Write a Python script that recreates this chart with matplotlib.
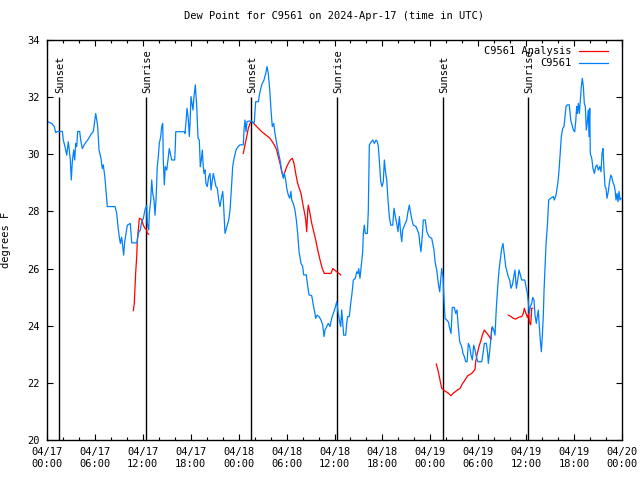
import numpy as np
import matplotlib
matplotlib.use('Agg')
from matplotlib import pyplot as plt
from matplotlib.ticker import MultipleLocator

nan = np.nan

# hours since 2024-04-17 00:00 UTC
blue_hours = [0.0, 0.59, 0.91, 1.09, 1.34, 1.92, 2.04, 2.25, 2.47, 2.67, 2.79, 2.92, 3.04, 3.17, 3.34,
              3.47, 3.59, 3.72, 3.84, 4.09, 4.22, 4.42, 4.76, 5.17, 5.51, 5.80, 6.10, 6.22, 6.35, 6.51,
              6.76, 6.92, 7.05, 7.26, 7.39, 7.55, 8.52, 8.73, 8.85, 9.02, 9.18, 9.35, 9.48, 9.60, 9.73,
              9.89, 10.06, 10.43, 10.61, 11.27, 11.43, 11.68, 11.86, 12.06, 12.31, 12.48, 12.56, 12.74,
              12.81, 12.99, 13.11, 13.24, 13.40, 13.52, 13.65, 13.81, 13.94, 14.06, 14.24, 14.36, 14.49,
              14.56, 14.69, 14.81, 14.99, 15.15, 15.31, 15.49, 15.62, 15.99, 16.07, 16.12, 17.19, 17.28,
              17.41, 17.53, 17.69, 17.82, 17.91, 18.03, 18.16, 18.28, 18.41, 18.57, 18.75, 18.91, 19.07,
              19.20, 19.32, 19.45, 19.57, 19.66, 19.78, 19.91, 20.07, 20.25, 20.41, 20.54, 20.70, 20.83,
              21.00, 21.16, 21.33, 21.50, 21.66, 21.83, 22.00, 22.08, 22.16, 22.29, 22.41, 22.58, 22.75,
              22.92, 23.08, 23.25, 23.42, 23.67, 23.92, 24.17, 24.58, 24.67, 24.79, 24.92, 25.04, 25.21,
              25.63, 25.84, 25.96, 26.13, 26.46, 26.63, 26.89, 27.17, 27.39, 27.55, 27.71, 27.89, 28.05,
              28.21, 28.39, 28.55, 28.76, 28.96, 29.18, 29.30, 29.46, 29.59, 29.72, 29.89, 30.02, 30.22,
              30.39, 30.55, 30.64, 30.84, 31.05, 31.22, 31.39, 31.56, 31.81, 32.02, 32.14, 32.47, 32.65,
              32.81, 33.15, 33.31, 33.47, 33.65, 33.81, 34.06, 34.31, 34.52, 34.69, 34.81, 35.02, 35.22,
              35.44, 35.65, 35.85, 36.06, 36.28, 36.44, 36.60, 36.78, 36.90, 37.03, 37.15, 37.40, 37.53,
              37.65, 37.85, 38.03, 38.19, 38.36, 38.61, 38.78, 38.94, 39.03, 39.19, 39.36, 39.53, 39.61,
              39.73, 39.86, 40.11, 40.23, 40.36, 40.61, 40.79, 40.99, 41.20, 41.36, 41.49, 41.61, 41.79,
              41.95, 42.11, 42.24, 42.36, 42.54, 42.70, 42.86, 43.04, 43.29, 43.45, 43.62, 43.79, 43.95,
              44.12, 44.29, 44.42, 44.54, 44.70, 44.87, 45.04, 45.20, 45.37, 45.54, 45.70, 45.87, 46.21,
              46.37, 46.55, 46.71, 46.83, 47.00, 47.12, 47.37, 47.55, 47.83, 48.17, 48.46, 48.59, 48.80,
              49.00, 49.17, 49.30, 49.42, 49.59, 49.67, 49.84, 50.05, 50.25, 50.43, 50.59, 50.75, 51.00,
              51.18, 51.34, 51.50, 51.68, 51.93, 52.09, 52.26, 52.43, 52.60, 52.76, 52.93, 53.09, 53.26,
              53.43, 53.60, 53.76, 53.94, 54.44, 54.60, 54.76, 55.01, 55.18, 55.26, 55.43, 55.60, 55.76,
              55.94, 56.10, 56.26, 56.44, 56.60, 56.76, 56.94, 57.10, 57.27, 57.44, 57.60, 57.77, 57.94,
              58.10, 58.26, 58.44, 58.60, 58.77, 58.94, 59.11, 59.27, 59.44, 59.82, 59.98, 60.15, 60.27,
              60.39, 60.52, 60.69, 60.82, 60.98, 61.11, 61.27, 61.39, 61.52, 61.65, 61.77, 61.90, 62.02,
              62.15, 62.24, 62.36, 62.49, 62.65, 62.82, 63.07, 63.40, 63.53, 63.74, 63.90, 64.03, 64.15,
              64.28, 64.40, 64.58, 64.74, 64.86, 64.99, 65.15, 65.40, 65.58, 65.74, 65.91, 66.08, 66.20,
              66.33, 66.41, 66.53, 66.66, 66.78, 66.91, 67.03, 67.16, 67.28, 67.41, 67.53, 67.66, 67.78,
              67.87, 67.96, 68.03, 68.21, 68.37, 68.54, 68.71, 68.87, 69.04, 69.21, 69.37, 69.50, 69.62,
              69.75, 69.87, 70.00, 70.12, 70.29, 70.41, 70.59, 70.71, 70.84, 71.00, 71.13, 71.25, 71.38,
              71.50, 71.63, 71.75, 71.88]
blue_dewpt = [31.15, 31.08, 30.97, 30.76, 30.8, 30.8, 30.5, 30.27, 29.97, 30.44, 30.15, 29.8, 29.1, 29.74, 30.15,
              29.8, 30.38, 30.27, 30.8, 30.8, 30.5, 30.2, 30.38, 30.53, 30.7, 30.8, 31.43, 31.2, 30.97, 30.15,
              29.86, 29.5, 29.63, 29.16, 28.7, 28.17, 28.17, 27.93, 27.58, 27.17, 26.88, 27.1, 26.76, 26.47, 26.94,
              27.23, 27.52, 27.58, 26.9, 26.9, 27.23, 27.35, 27.64, 27.76, 28.1, 28.21, 27.58, 27.35,
              27.93, 28.4, 29.1, 28.63, 28.4, 27.87, 28.4, 29.57, 29.92, 30.38, 30.62, 30.97, 31.08,
              29.8, 28.93, 29.57, 29.45, 29.8, 30.2, 29.97, 29.8, 29.8, 30.29, 30.79, 30.79, 30.73,
              31.14, 31.61, 31.26, 30.62, 31.08, 32.02, 31.78, 31.55, 32.02, 32.43, 31.67, 30.56, 30.5,
              29.57, 29.8, 30.15, 29.57, 29.33, 29.45, 28.98, 28.87, 29.22, 29.33, 28.75, 29.1, 29.33,
              29.1, 28.87, 28.81, 28.4, 28.17, 28.46, 28.7, 28.4, 27.93, 27.23, 27.35, 27.52, 27.7,
              28.05, 28.75, 29.57, 29.86, 30.15, 30.27, 30.33, 30.33, 30.85, 31.2, 30.79, 31.14, 31.16,
              31.16, 31.08, 31.14, 31.84, 31.84, 32.13, 32.43, 32.6, 32.83, 33.07, 32.83, 32.25, 31.55,
              30.97, 31.08, 30.73, 30.38, 30.09, 29.8, 29.57, 29.33, 29.16, 29.33, 29.1, 28.81, 28.57,
              28.46, 28.7, 28.4, 28.28, 28.05, 27.7, 27.23, 26.59, 26.18, 26.07, 25.78, 25.78, 25.37,
              25.08, 25.05, 24.78, 24.55, 24.26, 24.37, 24.32, 24.2, 24.03, 23.62, 23.85, 23.97, 24.08,
              23.97, 24.26, 24.43, 24.61, 24.84, 24.49, 24.2, 23.97, 24.55, 24.08, 23.67, 23.67, 24.08,
              24.32, 24.32, 24.78, 25.13, 25.6, 25.66, 25.89, 25.83, 26.0, 25.66, 26.13, 26.59, 27.23,
              27.52, 27.23, 27.23, 27.99, 30.33, 30.44, 30.5, 30.38, 30.5, 30.44, 30.27, 29.8, 29.04,
              28.87, 29.04, 29.8, 29.45, 29.1, 28.4, 27.82, 27.52, 27.52, 28.11, 27.82, 27.58, 27.29,
              27.82, 27.23, 26.94, 27.35, 27.47, 27.58, 27.7, 27.99, 28.22, 27.93, 27.7, 27.52, 27.47,
              27.35, 27.23, 26.82, 26.59, 27.17, 27.7, 27.7, 27.3, 27.12, 27.06, 26.65, 26.24, 25.95,
              25.48, 25.19, 25.6, 26.0, 25.71, 25.13, 24.26, 24.2, 24.14, 23.91, 23.73, 24.64, 24.64,
              24.43, 24.55, 23.97, 23.44, 23.27, 23.03, 22.92, 22.74, 22.74, 23.38, 23.27, 22.97, 22.8,
              23.32, 23.15, 22.92, 22.74, 22.74, 23.03, 23.38, 23.38, 23.03, 22.68, 23.09, 23.62, 23.97,
              23.85, 23.67, 24.61, 25.37, 25.95, 26.3, 26.71, 26.88, 26.47, 26.07, 25.89, 25.71, 25.6,
              25.31, 25.42, 25.71, 25.95, 25.31, 25.6, 25.95, 25.78, 25.6, 25.6, 25.37, 25.13, 24.84,
              24.43, 24.67, 24.78, 24.99, 24.9, 24.37, 24.08, 24.32, 24.55, 23.97, 23.5, 23.09, 23.62,
              24.37, 25.25, 26.07, 26.88, 27.47, 28.4, 28.46, 28.52, 28.4, 28.57, 28.87, 29.16, 29.57,
              30.09, 30.62, 30.91, 30.97, 31.32, 31.67, 31.73, 31.73, 31.2, 31.03, 30.85, 30.79, 31.14,
              31.67, 31.43, 31.78, 31.43, 31.9, 32.37, 32.66, 32.37, 31.78, 31.67, 30.85, 31.14, 31.55,
              30.62, 31.61, 30.03, 29.86, 29.5, 29.33, 29.57, 29.63, 29.45, 29.57, 29.39, 30.03, 30.2,
              29.45, 28.87, 28.81, 28.46, 28.7, 28.98, 29.27, 29.22, 29.04, 28.93, 28.75, 28.4, 28.63,
              28.34, 28.7, 28.4, 28.46]

# analysis series, gaps marked with nan
red_hours = [10.81, 10.93, 11.02, 11.11, 11.23, 11.31, 11.48, 11.56, 11.86, 12.06, 12.27, 12.48, 12.56, 12.74,
             nan,
             24.58, 24.79, 25.01, 25.21, 25.51, 25.71, 26.05, 26.46, 26.89, 27.39, 27.92, 28.21, 28.46,
             28.76, 28.96, 29.18, 29.39, 29.59, 29.80, 30.02, 30.22, 30.47, 30.72, 30.93, 31.14, 31.39,
             31.59, 31.81, 32.02, 32.22, 32.40, 32.52, 32.65, 32.72, 32.93, 33.15, 33.40, 33.65, 33.90,
             34.19, 34.47, 34.72, 35.56, 35.78, 36.28, 36.78,
             nan,
             48.75, 49.00, 49.21, 49.42, 49.75, 50.25, 50.59, 50.88, 51.30, 51.72, 52.00, 52.34, 52.68,
             53.18, 53.60, 53.68, 53.88, 54.09, 54.35, 54.51, 54.76, 55.01, 55.35, 55.60, 55.68,
             nan,
             57.77, 58.10, 58.39, 58.69, 59.02, 59.44, 59.64, 59.77, 59.98, 60.15, 60.32, 60.39, 60.57,
             60.69, 60.82]
red_dewpt = [24.53, 24.78, 25.34, 25.89, 26.4, 27.0, 27.49, 27.76, 27.72, 27.52, 27.41, 27.35, 27.23, 27.2,
             nan,
             30.03, 30.33, 30.62, 30.91, 31.14, 31.14, 31.03, 30.91, 30.79, 30.68, 30.56, 30.44, 30.33,
             30.15, 29.92, 29.68, 29.39, 29.22, 29.39, 29.57, 29.68, 29.8, 29.86, 29.68, 29.33, 28.98,
             28.81, 28.63, 28.28, 27.99, 27.7, 27.29, 28.05, 28.22, 27.93, 27.58, 27.29, 27.0, 26.65,
             26.3, 26.0, 25.83, 25.83, 26.0, 25.89, 25.78,
             nan,
             22.66, 22.39, 22.1, 21.81, 21.73, 21.64, 21.55, 21.64, 21.73, 21.81, 21.96, 22.1, 22.25,
             22.33, 22.47, 22.74, 23.03, 23.27, 23.5, 23.67, 23.85, 23.76, 23.64, 23.52, 23.91,
             nan,
             24.37, 24.32, 24.26, 24.23, 24.29, 24.32, 24.43, 24.61, 24.43, 24.29, 24.43, 24.14, 24.03,
             24.61, 24.61]

sun_hours = [1.54, 12.44, 25.58, 36.36, 49.63, 60.27]
sun_labels = ['Sunset', 'Sunrise', 'Sunset', 'Sunrise', 'Sunset', 'Sunrise']

xtick_hours = list(range(0, 73, 6))
xtick_labels = ['04/17\n00:00', '04/17\n06:00', '04/17\n12:00', '04/17\n18:00',
                '04/18\n00:00', '04/18\n06:00', '04/18\n12:00', '04/18\n18:00',
                '04/19\n00:00', '04/19\n06:00', '04/19\n12:00', '04/19\n18:00',
                '04/20\n00:00']

plt.rcParams['font.family'] = 'DejaVu Sans Mono'
plt.rcParams['font.size'] = 7

fig = plt.figure(figsize=(6.4, 4.8), dpi=100)
ax = fig.add_axes([47 / 640, 40 / 480, 575 / 640, 400 / 480])

for h, lab in zip(sun_hours, sun_labels):
    ax.vlines(h, 20, 32.0, color='black', linewidth=1)
    ax.text(h + 0.15, 32.15, lab, rotation=90, ha='center', va='bottom', fontsize=7.5)

ax.plot(red_hours, red_dewpt, color='#ff0000', linewidth=0.9, label='C9561 Analysis')
ax.plot(blue_hours, blue_dewpt, color='#0080ff', linewidth=0.9, label='C9561')

ax.set_xlim(0, 72)
ax.set_ylim(20, 34)
ax.set_xticks(xtick_hours)
ax.set_xticklabels(xtick_labels)
ax.xaxis.set_minor_locator(MultipleLocator(2))
ax.set_yticks(np.arange(20, 35, 2))
ax.tick_params(which='both', direction='in', top=True, right=True, width=0.8, labelsize=7.5)
ax.tick_params(which='major', length=4.5, pad=5)
ax.tick_params(which='minor', length=2.2)
for s in ax.spines.values():
    s.set_linewidth(1)

ax.set_title('Dew Point for C9561 on 2024-Apr-17 (time in UTC)', fontsize=7.5, pad=15)
ax.set_ylabel('degrees F', fontsize=7.5)
ax.yaxis.set_label_coords(-0.062, 0.5)

ax.legend(loc='upper right', bbox_to_anchor=(1 - 8 / 575, 1.0), frameon=False, markerfirst=False,
          handlelength=2.8, borderaxespad=0.2, labelspacing=0.2, handletextpad=0.7, fontsize=7.5)

plt.savefig('out.png', dpi=100)
